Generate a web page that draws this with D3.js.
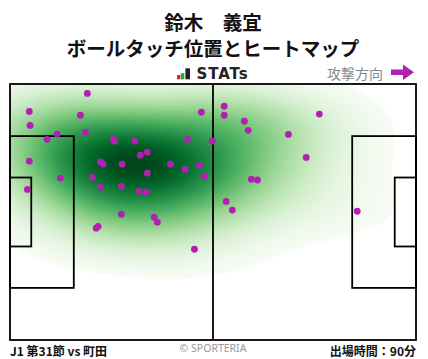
<!DOCTYPE html>
<html><head><meta charset="utf-8">
<script src="https://cdn.jsdelivr.net/npm/d3@7"></script>
<style>body{margin:0;background:#fff}svg{display:block}</style>
</head><body>
<script>
// ---- text ----
const titleText = "鈴木　義宜";
const subtitleText = "ボールタッチ位置とヒートマップ";
const logoText = "STATs";
const directionText = "攻撃方向";
const matchText = "J1 第31節 vs 町田";
const creditText = "© SPORTERIA";
const minutesText = "出場時間：90分";

// ---- pitch dimensions (m) ----
const pitchLength = 105, pitchWidth = 68;

// ---- ball touches (m, x from own goal, y from top touchline) ----
const touchX = [20.0,5.0,5.2,18.2,49.5,19.5,12.2,9.6,26.7,27.1,32.3,45.9,52.3,35.5,33.7,5.0,23.4,24.1,29.0,41.5,
  45.3,49.0,35.5,50.2,13.0,21.3,4.5,23.4,28.8,33.4,35.2,55.4,55.4,80.0,60.6,61.6,72.0,76.6,62.4,64.0,
  55.9,57.5,89.8,28.8,37.3,38.1,22.8,22.3,47.7];
const touchY = [2.5,7.3,11.0,8.3,7.5,12.8,13.3,14.7,14.7,15.2,15.2,14.7,15.2,18.1,18.9,20.5,20.7,21.3,21.3,21.3,
  22.7,21.6,23.7,24.5,25.0,24.8,28.0,27.4,27.2,28.5,28.8,5.9,8.3,8.0,9.9,12.3,13.4,19.5,25.3,25.5,
  31.2,33.5,33.8,34.6,35.4,36.7,37.8,38.3,43.9];

const W = 428, H = 359;
const svg = d3.select("body").append("svg").attr("width", W).attr("height", H);

const x = d3.scaleLinear().domain([0, pitchLength]).range([10, 416]);
const y = d3.scaleLinear().domain([0, pitchWidth]).range([84, 340]);

// ---- KDE (gaussian, Scott's rule, full covariance) ----
const n = touchX.length;
const mx = d3.mean(touchX), my = d3.mean(touchY);
let sxx = 0, syy = 0, sxy = 0;
for (let i = 0; i < n; i++) {
  const dx = touchX[i] - mx, dy = touchY[i] - my;
  sxx += dx * dx; syy += dy * dy; sxy += dx * dy;
}
sxx /= (n - 1); syy /= (n - 1); sxy /= (n - 1);
const bwAdjust = 1.45;
const f = Math.pow(n, -1 / 6) * bwAdjust;
const cxx = sxx * f * f, cyy = syy * f * f, cxy = sxy * f * f;
const det = cxx * cyy - cxy * cxy;
const ixx = cyy / det, iyy = cxx / det, ixy = -cxy / det;
const cut = 3, G = 200;
const bwx = Math.sqrt(cxx), bwy = Math.sqrt(cyy);
const x0 = d3.min(touchX) - cut * bwx, x1 = d3.max(touchX) + cut * bwx;
const y0 = d3.min(touchY) - cut * bwy, y1 = d3.max(touchY) + cut * bwy;
const stepX = (x1 - x0) / (G - 1), stepY = (y1 - y0) / (G - 1);
const values = new Float64Array(G * G);
for (let j = 0; j < G; j++) {
  const gy = y0 + j * stepY;
  for (let i = 0; i < G; i++) {
    const gx = x0 + i * stepX;
    let s = 0;
    for (let k = 0; k < n; k++) {
      const dx = gx - touchX[k], dy = gy - touchY[k];
      s += Math.exp(-0.5 * (ixx * dx * dx + 2 * ixy * dx * dy + iyy * dy * dy));
    }
    values[j * G + i] = s / (n * 2 * Math.PI * Math.sqrt(det));
  }
}
// iso-proportion levels
const nLevels = 100, thresh = 0.05;
const sorted = Array.from(values).sort((a, b) => b - a);
const total = d3.sum(sorted);
const cum = []; let acc = 0;
for (const v of sorted) { acc += v; cum.push(acc / total); }
const levels = d3.range(nLevels).map(i => {
  const iso = thresh + (1 - thresh) * i / (nLevels - 1);
  const idx = Math.min(d3.bisectLeft(cum, 1 - iso), sorted.length - 1);
  return sorted[idx];
}).sort((a, b) => a - b);
const lmin = levels[0], lmax = levels[levels.length - 1];
const color = d3.scaleSequential(d3.interpolateGreens).domain([lmin, lmax]);

const contours = d3.contours().size([G, G]).thresholds(levels.slice(0, -1))(values);
const proj = d3.geoTransform({
  point(cx, cy) { this.stream.point(x(x0 + (cx - 0.5) * stepX), y(y0 + (cy - 0.5) * stepY)); }
});
const path = d3.geoPath(proj);

svg.append("clipPath").attr("id", "pitchClip").append("rect")
  .attr("x", x(0)).attr("y", y(0)).attr("width", x(pitchLength) - x(0)).attr("height", y(pitchWidth) - y(0));

const heat = svg.append("g").attr("clip-path", "url(#pitchClip)");
contours.forEach((c, i) => {
  const mid = (levels[i] + levels[i + 1]) / 2;
  heat.append("path").attr("d", path(c)).attr("fill", color(mid)).attr("stroke", "none");
});

// ---- pitch lines ----
const lines = svg.append("g").attr("fill", "none").attr("stroke", "#000").attr("stroke-width", 1.8);
const rect = (ax, ay, bx, by) => lines.append("rect")
  .attr("x", x(ax)).attr("y", y(ay)).attr("width", x(bx) - x(ax)).attr("height", y(by) - y(ay));
rect(0, 0, pitchLength, pitchWidth);
const pbY0 = pitchWidth / 2 - 20.16, pbY1 = pitchWidth / 2 + 20.16;
const gaY0 = pitchWidth / 2 - 9.16, gaY1 = pitchWidth / 2 + 9.16;
rect(0, pbY0, 16.5, pbY1);
rect(pitchLength - 16.5, pbY0, pitchLength, pbY1);
rect(0, gaY0, 5.5, gaY1);
rect(pitchLength - 5.5, gaY0, pitchLength, gaY1);
lines.append("line").attr("x1", x(pitchLength / 2)).attr("x2", x(pitchLength / 2))
  .attr("y1", y(0)).attr("y2", y(pitchWidth));

// ---- touches ----
svg.append("g").selectAll("circle").data(d3.range(n)).join("circle")
  .attr("cx", i => x(touchX[i])).attr("cy", i => y(touchY[i])).attr("r", 3.4)
  .attr("fill", "#b31fb3");

// ---- header ----
const jp = "'Noto Sans CJK JP', 'Noto Sans', sans-serif";
svg.append("text").attr("x", 213).attr("y", 21).attr("text-anchor", "middle")
  .attr("dominant-baseline", "central").attr("font-family", jp).attr("font-weight", "bold")
  .attr("font-size", 19.5).attr("fill", "#111").text(titleText);
svg.append("text").attr("x", 213).attr("y", 47).attr("text-anchor", "middle")
  .attr("dominant-baseline", "central").attr("font-family", jp).attr("font-weight", "bold")
  .attr("font-size", 19.5).attr("fill", "#111").text(subtitleText);

// logo
const logo = svg.append("g");
logo.append("rect").attr("x", 177).attr("y", 75).attr("width", 3.3).attr("height", 4.3).attr("fill", "#e8202a");
logo.append("rect").attr("x", 180.8).attr("y", 73.3).attr("width", 3.5).attr("height", 6).attr("fill", "#2aa33a");
logo.append("rect").attr("x", 185.4).attr("y", 68.3).attr("width", 4.6).attr("height", 11).attr("fill", "#222");
logo.append("text").attr("x", 196.5).attr("y", 79.3).attr("font-family", "'DejaVu Sans', sans-serif")
  .attr("font-weight", "bold").attr("font-size", 15).attr("letter-spacing", 0.9).attr("fill", "#222").text(logoText);

// attack direction
svg.append("text").attr("x", 383).attr("y", 72.5).attr("text-anchor", "end").attr("dominant-baseline", "central")
  .attr("font-family", jp).attr("font-size", 14).attr("fill", "#888").text(directionText);
svg.append("path").attr("d", "M391,69.5 H403 V64.5 L414,72.3 L403,80 V75 H391 Z").attr("fill", "#b31fb3");

// ---- footer ----
svg.append("text").attr("x", 10).attr("y", 350).attr("dominant-baseline", "central")
  .attr("font-family", jp).attr("font-weight", "bold").attr("font-size", 12).attr("fill", "#111").text(matchText);
svg.append("text").attr("x", 213).attr("y", 347.5).attr("text-anchor", "middle").attr("dominant-baseline", "central")
  .attr("font-family", "'Noto Sans', sans-serif").attr("font-size", 10.5).attr("fill", "#999").text(creditText);
svg.append("text").attr("x", 416).attr("y", 350).attr("text-anchor", "end").attr("dominant-baseline", "central")
  .attr("font-family", jp).attr("font-weight", "bold").attr("font-size", 12).attr("fill", "#111").text(minutesText);
</script>
</body></html>
